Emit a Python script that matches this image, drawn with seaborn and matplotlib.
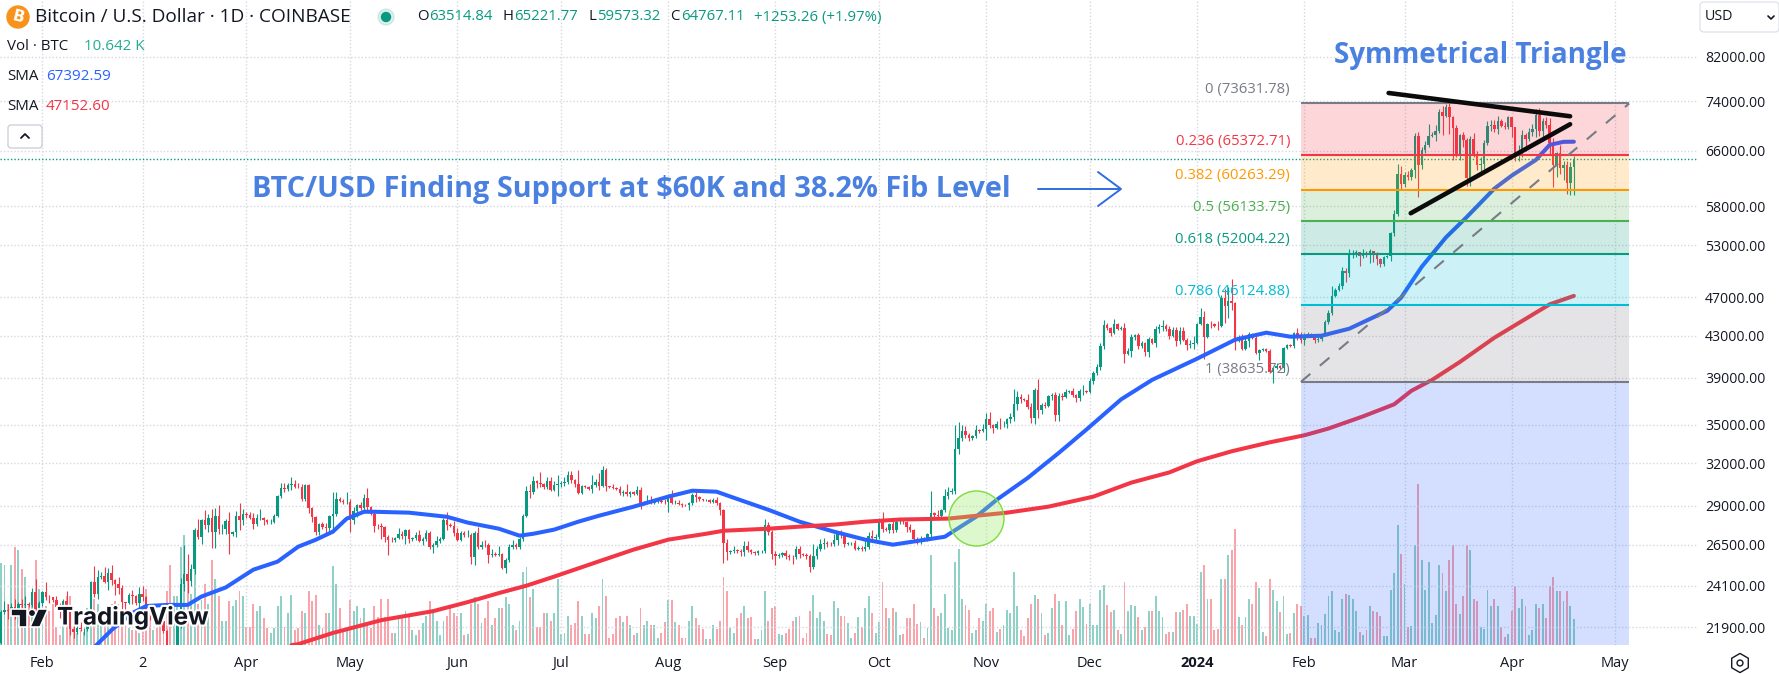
import numpy as np
import pandas as pd
import matplotlib
matplotlib.use("Agg")
import matplotlib.pyplot as plt
import matplotlib.patheffects as pe
from matplotlib.patches import Rectangle, Polygon, Circle, FancyBboxPatch
from matplotlib.ticker import NullLocator, FixedLocator
import seaborn as sns

FIRST_OPEN = 21080.0
C_2301 = [22666,22784,22707,22934,22637,23117,23032,23078,23031,23775,22840,23139]
C_2302 = [23723,23471,23449,23331,22955,22760,23264,22939,21819,21651,21870,21788,21808,22220,24307,23623,24565,24641,24327,24829,24437,24188,23947,23198,23175,23561,23522,23147]
C_2303 = [23646,23475,22362,22354,22435,22429,22219,21718,20363,20187,20632,22163,24197,24746,24375,25052,27423,26965,28038,27767,28175,27307,28333,27493,27494,27994,27139,27268,28348,28033,28478]
C_2304 = [28411,28199,27790,28169,28175,28044,27925,27947,28333,29653,30235,30139,30399,30485,30318,30315,29445,30397,28822,28245,27276,27817,27591,27525,28307,28422,29473,29340,29248,29268]
C_2305 = [28091,28680,29031,28848,29534,28904,28454,27694,27658,27621,26988,26804,26784,26930,27172,27036,27398,26832,26890,27118,26753,26851,27225,26334,26475,26720,26868,28085,27745,27700,27219]
C_2306 = [26819,27249,27075,27119,25760,27235,26346,26507,26480,25850,25940,25902,25918,25124,25575,26328,26510,26336,26851,28327,30027,29912,30688,30548,30480,30271,30689,30086,30445,30477]
C_2307 = [30590,30620,31156,30777,30514,29895,30346,30292,30171,30414,30620,30391,31476,30334,30297,30249,30145,29856,29913,29792,29908,29800,30083,29176,29228,29354,29213,29314,29352,29275,29230]
C_2308 = [29705,29186,29193,29113,29042,29041,29180,29766,29561,29429,29397,29416,29283,29408,29170,28700,26622,26049,26096,26189,26124,26040,26431,26163,26056,26003,26089,26106,27727,27297,25931]
C_2309 = [25800,25869,25969,25812,25780,25753,26240,25905,25895,25832,25162,25840,26222,26522,26600,26568,26530,26762,27211,27130,26568,26579,26579,26256,26298,26217,26352,27021,26911,26967]
C_2310 = [27983,27502,27429,27794,27412,27931,27956,27917,27590,27392,26873,26756,26862,26852,27154,28500,28396,28320,28715,29670,29908,29992,33086,33900,34500,34150,33900,34090,34530,34500,34650]
C_2311 = [35420,34940,34720,35070,35040,35050,35420,35630,36690,37310,37130,37060,36490,35550,37880,36160,36590,36580,37380,37470,35760,37420,37290,37720,37790,37450,37240,37820,37850,37720]
C_2312 = [38690,39460,39970,41980,44070,43770,43290,44180,43720,43790,41240,41490,42880,43020,41940,42260,41370,42660,42270,43660,43860,43990,43720,43010,43600,42520,43440,42580,42070,42140,42280]
C_2401 = [44180,44950,42850,44180,44160,43970,43930,46970,46110,46650,46340,42780,42850,41730,42500,43150,42740,41270,41620,41670,41550,39510,39890,40090,39940,41820,42120,42030,43300,42950,42580]
C_2402 = [43080,43190,42990,42580,42660,43090,44340,45300,47150,47770,48290,49960,49740,51830,51950,52140,51660,52130,51780,52270,51850,51300,50740,51570,51730,54490,57050,62500,61170]
C_2403 = [62430,62030,63130,68330,63800,66100,66940,68300,68500,69020,72130,71480,73080,71390,69500,65320,68390,67600,61940,67850,65500,63800,64070,67220,69960,69990,69470,70780,69890,69650,71290]
C_2404 = [69650,65460,65960,68500,67840,68900,69360,71630,69150,70640,70010,67190,63900,65660,63430,63800,61280,63514.84,64767.11]

UP_2301 = [100,500,320,240,430,100,260,430,150,190,700,130]
UP_2302 = [60,600,130,50,200,200,100,520,100,300,120,300,50,170,70,940,450,260,550,290,450,30,410,180,20,120,320,80]
UP_2303 = [370,440,40,130,140,200,330,40,50,100,300,50,320,1750,1200,300,100,700,100,700,300,600,500,700,300,100,600,100,300,820,300]
UP_2304 = [100,150,350,300,600,100,100,200,100,100,350,350,200,500,300,250,200,100,100,100,50,30,100,300,100,1500,500,100,100,700]
UP_2305 = [200,250,100,200,300,700,100,100,100,200,50,100,150,50,400,150,100,100,100,200,300,100,200,150,100,300,100,100,500,100,300]
UP_2306 = [300,100,100,300,100,100,400,200,300,100,300,100,500,100,100,200,300,100,100,100,300,500,400,100,800,100,300,300,300,700]
UP_2307 = [100,400,300,300,100,1000,100,100,100,700,200,700,350,160,50,200,50,200,200,600,100,100,250,200,100,400,300,100,100,100,200]
UP_2308 = [100,400,200,200,50,100,100,100,400,100,50,50,50,100,200,100,80,200,100,200,50,100,300,300,100,50,100,100,410,200,100]
UP_2309 = [200,100,100,200,100,100,200,200,100,100,100,720,200,300,300,100,100,400,100,200,100,100,100,200,100,100,500,300,400,200]
UP_2310 = [200,600,100,100,200,100,100,100,100,200,100,100,200,100,100,1500,100,300,100,500,400,200,1900,1300,500,400,200,100,400,100,400]
UP_2311 = [500,600,100,200,500,200,100,300,1280,500,300,100,500,300,200,1000,200,300,100,200,300,200,200,300,100,300,100,200,500,100]
UP_2312 = [300,200,300,300,500,200,100,500,100,200,500,300,300,100,200,200,100,200,100,300,300,600,200,300,300,300,400,400,200,400,700]
UP_2401 = [100,950,550,100,300,100,500,300,900,1500,2400,100,200,300,300,200,100,200,100,100,100,100,100,300,100,100,100,100,100,500,400]
UP_2402 = [200,200,100,100,300,100,300,300,1100,300,300,400,300,700,500,300,100,400,200,300,100,300,200,100,100,200,500,1500,1200]
UP_2403 = [400,500,300,500,670,400,600,1900,450,1000,600,1000,400,550,200,500,200,500,300,400,900,500,1000,500,800,800,800,700,300,600,200]
UP_2404 = [60,50,950,800,200,700,900,1070,1150,560,660,1200,800,140,1240,600,700,730,454.66]

DN_2301 = [30,100,400,200,350,550,300,350,100,100,200,350]
DN_2302 = [130,150,300,120,100,400,300,300,300,300,100,100,300,100,170,120,270,100,70,470,290,590,330,340,430,100,420,100]
DN_2303 = [500,200,150,100,100,300,100,100,200,650,400,100,300,400,700,300,300,100,400,300,500,1000,1000,300,300,300,1200,100,300,600,300]
DN_2304 = [200,100,300,100,100,300,100,100,100,100,100,200,100,300,100,100,100,100,300,300,150,200,100,300,300,1000,100,100,100,100]
DN_2305 = [800,300,400,100,300,300,100,400,200,800,300,900,100,100,100,200,500,200,100,100,100,300,100,100,350,100,100,100,300,100,200]
DN_2306 = [100,100,100,100,400,500,100,100,100,450,100,100,100,100,320,100,100,100,100,100,100,400,100,300,200,100,100,100,100,800]
DN_2307 = [200,200,100,200,200,100,100,100,100,300,100,300,100,300,50,100,100,100,200,100,200,100,100,400,100,100,100,100,100,100,100]
DN_2308 = [630,100,100,50,100,50,300,100,300,100,100,50,100,100,100,300,1200,500,100,100,100,200,200,100,100,100,100,100,100,200,300]
DN_2309 = [500,100,100,200,200,400,100,200,100,200,260,100,200,100,300,200,100,100,300,200,200,100,100,100,100,100,100,100,100,100]
DN_2310 = [100,200,100,200,200,100,100,100,300,100,200,200,200,100,100,200,300,100,100,100,200,100,200,400,200,200,200,100,200,200,100]
DN_2311 = [900,200,400,100,400,200,300,300,300,500,300,100,200,400,500,600,300,200,100,300,500,500,200,100,100,100,400,300,300,100]
DN_2312 = [100,200,200,300,300,200,300,100,100,100,900,100,600,300,200,100,300,400,100,400,400,400,300,300,100,500,300,100,500,300,400]
DN_2401 = [100,100,2100,100,400,100,400,100,1800,1300,740,1200,400,100,100,600,100,100,600,100,100,100,950,100,100,400,100,100,200,400,330]
DN_2402 = [500,200,100,300,200,200,100,200,200,100,100,400,1100,500,400,300,1100,200,200,900,800,600,300,200,100,600,300,300,870]
DN_2403 = [500,300,300,1200,4500,500,400,400,100,1000,300,3100,200,2800,4900,300,800,1000,1140,1140,400,700,1000,800,400,800,600,900,100,200,300]
DN_2404 = [1550,960,960,860,1840,390,560,1250,900,1650,400,1900,3200,1800,930,1730,1630,1680,3941.52]

# Volume in thousand BTC
VOL_A = [33.5,33,17,33,40,39,31,28,17,19,35,23,22,16,14,17,7.5,4,16,20,
         20,7.5,5,6,5.5,15,15,19,17,12,10,12,17,18,17,12,9,7,6,6,
         5,7,23,17,6,7,12,7,22,33,20,20,40,45,29,21,31,17,18.5,25,
         17,35,27,20,10,10,18,16,18.5,22,20,7.5,7.5,17,14,16,11,7,5,7,
         16,20,7.5,13,20.5,6,7]
VOL_B = [14,13,22,18,20.5,8,7,13,13,32.5,25,15,6,6,18.5,14,16,11,15,8,
         7,16,11.5,19,11.5,19,5,5,12,11.5,14,11.5,6,4,6,9,12,18,13,10,
         4,10,12,15,13,12,13,4,4.5,17,19.5,17,9,11,18,8,11,15,15,19.5,
         17,8,6,10,30,32,19.5,23,7.5,7.5,13,13,10,13,27,4.5,5,12,8,9,
         18,12,4.5,4.5,13,11,16]
VOL_C = [27,20,3,4.5,11,12,9.5,12,8,4,5,15,8,10,8,8,3,5,9.5,18.5,
         18.5,9.5,8,3,3,10,16,11,8,6.5,2.5,2.5,8,6.5,10,28,22,7,5,11,
         13,16,11,11.5,2.5,2.5,6,22,10,15,16,4.5,4,5,6.5,10,11.5,12,3,5,
         14,20.5,11,13.5,10,4.5,4,18,15,12,12,9,3,5,11.5,7.5,15,20,13,5,
         9.5,26,15,11,15,13.5,4]
VOL_D = [4.5,11,11,17,8.5,9.5,3,7,37,15,12,13,21,7,6,34,39.5,19,16.5,14.5,
         5,6,11,10,17,14,15,5.5,6.5,8,14.5,13,30,16,6,3.5,11,17,20.5,19,
         13,4,5,15,21,18,8,18,4,6.5,14,19,15.5,8.5,17,8,8,22.5,24.5,16.5,
         13.5,14.5,6,4.5,26,14,16.5,16,11.5,6,7.5,14,14,20,14,11.5,4.5,5.5,5.5,13.5,
         13.5,14.5,17,12,12,8.5,30,33,19,19,6,6.5,27,27,37,39,47.5,11.5,8,11.5,
         19,17,26,23.5,5.5,3.5,27,22.5,18,13.5,20,4.5,5,13,17,16]
VOL_E = [12,12.5,2.7,3,9,8.4,12.7,20,22.3,6,5.5,19,21,20.7,19,14,5.5,4.2,6.3,16,
         14,13.4,12,3.8,3.8,22.7,29.5,49,37.4,
         25,7.3,7.7,41,66,35,22.7,34,9,12.5,33,29.7,22,34.7,41,17,12.7,20,41,39,
         19,18,7.5,6.7,22.7,16,19,15.8,7.5,3.4,4.5,
         14,24,15,19,15.8,4.2,6,17,15.3,17,11,24,28,22,22,18,22.3,15.8,10.642]

# Moving averages read at selected sessions (dates given as day offsets from the first bar)
SMA50_DAY = [27,32,38,42,48,54,58,65,73,80,86,91,96,100,105,108,118,129,135,144,150,154,160,167,173,183,193,200,207,212,222,231,241,250,258,273,282,288,297,306,314,324,333,346,357,366,373,382,390,401,405,411,418,424,432,437,444,448,452,455]
SMA50_VAL = [20900,21750,22620,22990,23050,23050,23500,24000,25010,25480,26380,26800,27310,28150,28600,28600,28540,28270,27890,27500,27060,27180,27440,27950,28340,28940,29620,30030,29960,29540,28730,27950,27310,26810,26500,26990,28260,29400,30930,32780,34600,37100,38820,40770,42600,43300,42900,43000,43700,45550,46960,50450,54000,56600,60460,62300,64600,66900,67370,67392.59]
SMA200_DAY = [84,86,96,110,125,135,144,152,160,173,183,193,204,209,222,231,241,250,260,274,291,303,316,327,338,346,356,367,377,384,394,403,408,414,422,432,448,455]
SMA200_VAL = [21000,21050,21600,22250,22720,23200,23690,24100,24610,25500,26200,26810,27180,27370,27500,27630,27760,27950,28090,28150,28540,28940,29620,30600,31330,32150,32900,33590,34140,34680,35670,36680,37850,38820,40460,42800,46240,47152.6]

FIB_RATIO = ["0","0.236","0.382","0.5","0.618","0.786","1"]
FIB_PRICE = [73631.78,65372.71,60263.29,56133.75,52004.22,46124.88,38635.72]
FIB_COLOR = ["#787b86","#f23645","#ff9800","#4caf50","#089981","#00bcd4","#787b86"]
FIB_FILL = ["#f23645","#ff9800","#4caf50","#089981","#00bcd4","#787b86"]
FIB_START, FIB_END = "2024-01-31", "2024-05-05"

Y_TICKS = [82000,74000,66000,58000,53000,47000,43000,39000,35000,32000,29000,26500,24100,21900]
X_TICK_DATES = ["2023-02-01","2023-03-02","2023-04-01","2023-05-01","2023-06-01","2023-07-01","2023-08-01","2023-09-01","2023-10-01","2023-11-01","2023-12-01","2024-01-01","2024-02-01","2024-03-01","2024-04-01","2024-05-01"]
X_TICK_LABELS = ["Feb","2","Apr","May","Jun","Jul","Aug","Sep","Oct","Nov","Dec","2024","Feb","Mar","Apr","May"]

TREND_UPPER_DAY, TREND_UPPER_VAL = [401.4,453.9], [75440,71480]
TREND_LOWER_DAY, TREND_LOWER_VAL = [407.8,453.9], [57100,70170]
CIRCLE_DAY, CIRCLE_VAL = 282, 28190

closes = np.array(sum([C_2301,C_2302,C_2303,C_2304,C_2305,C_2306,C_2307,C_2308,C_2309,C_2310,C_2311,C_2312,C_2401,C_2402,C_2403,C_2404],[]),float)
wick_up = np.array(sum([UP_2301,UP_2302,UP_2303,UP_2304,UP_2305,UP_2306,UP_2307,UP_2308,UP_2309,UP_2310,UP_2311,UP_2312,UP_2401,UP_2402,UP_2403,UP_2404],[]),float)
wick_dn = np.array(sum([DN_2301,DN_2302,DN_2303,DN_2304,DN_2305,DN_2306,DN_2307,DN_2308,DN_2309,DN_2310,DN_2311,DN_2312,DN_2401,DN_2402,DN_2403,DN_2404],[]),float)
volume = np.array(VOL_A+VOL_B+VOL_C+VOL_D+VOL_E,float)
assert len(closes)==len(wick_up)==len(wick_dn)==len(volume)==456,(len(closes),len(wick_up),len(wick_dn),len(volume))

opens = np.r_[FIRST_OPEN, closes[:-1]]
highs = np.maximum(opens,closes)+wick_up
lows = np.minimum(opens,closes)-wick_dn
highs[-1], lows[-1] = 65221.77, 59573.32
days = np.arange(len(closes))
START = pd.Timestamp("2023-01-20")
day_of = lambda s: (pd.Timestamp(s)-START).days

sns.set_theme(style="white")
plt.rcParams["font.family"] = ["Open Sans","DejaVu Sans"]
UPC, DNC = "#089981", "#f23645"
TXT = "#131722"
ACCENT = "#4a80e0"
W, H = 1779, 674
fig = plt.figure(figsize=(W/100,H/100),dpi=100,facecolor="white")
AX_R, AX_B = 1698, 645
ax = fig.add_axes([0,1-AX_B/H,AX_R/W,AX_B/H])
vax = ax.twinx()
ax.set_zorder(2); vax.set_zorder(1); ax.patch.set_visible(False)
vax.patch.set_facecolor("white")

# volume
is_up = closes>=opens
vax.bar(days[is_up],volume[is_up],width=0.55,color=UPC,alpha=0.45,linewidth=0)
vax.bar(days[~is_up],volume[~is_up],width=0.55,color=DNC,alpha=0.45,linewidth=0)
vax.set_ylim(0,AX_B*0.41)
vax.axis("off")

# candles
ax.vlines(days[is_up],lows[is_up],highs[is_up],color=UPC,lw=0.8,zorder=3)
ax.vlines(days[~is_up],lows[~is_up],highs[~is_up],color=DNC,lw=0.8,zorder=3)
bt = np.minimum(opens,closes); tp = np.maximum(opens,closes)
ax.bar(days[is_up],(tp-bt)[is_up],bottom=bt[is_up],width=0.72,color=UPC,linewidth=0,zorder=3)
ax.bar(days[~is_up],(tp-bt)[~is_up],bottom=bt[~is_up],width=0.72,color=DNC,linewidth=0,zorder=3)

# moving averages
sns.lineplot(x=SMA50_DAY,y=SMA50_VAL,ax=ax,color="#2962ff",lw=2.9,zorder=4,errorbar=None,estimator=None)
sns.lineplot(x=SMA200_DAY,y=SMA200_VAL,ax=ax,color="#f23645",lw=2.9,zorder=4,errorbar=None,estimator=None)

ax.set_yscale("log")
ax.set_ylim(21006,93570)
ax.set_xlim(-0.29,490.9)

# Fibonacci
fs,fe = day_of(FIB_START),day_of(FIB_END)
for i,c in enumerate(FIB_FILL):
    ax.fill_between([fs,fe],FIB_PRICE[i+1],FIB_PRICE[i],color=c,alpha=0.2,lw=0,zorder=5)
ax.fill_between([fs,fe],21006,FIB_PRICE[-1],color="#2962ff",alpha=0.2,lw=0,zorder=5)
for p,c in zip(FIB_PRICE,FIB_COLOR):
    ax.hlines(p,fs,fe,color=c,lw=1.5,zorder=5)
ax.plot([fs,fe],[FIB_PRICE[-1],FIB_PRICE[0]],color="#787b86",lw=1.5,ls=(0,(6,6)),zorder=5)
FIB_LABEL_Y = [90,141,176,207,240,292,369]

# trend lines, circle, current price
ax.plot(TREND_UPPER_DAY,TREND_UPPER_VAL,color="#0b0b0b",lw=3.3,solid_capstyle="round",zorder=6)
ax.plot(TREND_LOWER_DAY,TREND_LOWER_VAL,color="#0b0b0b",lw=3.3,solid_capstyle="round",zorder=6)
ax.scatter([CIRCLE_DAY],[CIRCLE_VAL],s=1568,facecolor=(0.6,0.92,0.4,0.32),edgecolor="#7ddc3c",linewidth=1,zorder=6)
ax.axhline(closes[-1],xmin=0,xmax=1,color=UPC,lw=1,ls=(0,(1,1.5)),zorder=2)

# axes
ax.yaxis.tick_right()
ax.yaxis.set_major_locator(FixedLocator(Y_TICKS))
ax.yaxis.set_minor_locator(NullLocator())
ax.set_yticklabels([f"{v:.2f}" for v in Y_TICKS])
ax.set_xticks([day_of(d) for d in X_TICK_DATES])
ax.set_xticklabels(X_TICK_LABELS)
ax.tick_params(axis="y",length=0,pad=5,labelsize=10.1,colors=TXT,which="both")
ax.tick_params(axis="x",length=0,pad=8,labelsize=10.5,colors=TXT)
ax.get_xticklabels()[11].set_fontweight("bold")
ax.grid(True,color="#d6d8e2",lw=1,ls=(0,(1,1.5)),zorder=0)
ax.set_axisbelow(True)
for s in ax.spines.values(): s.set_visible(False)
for s in vax.spines.values(): s.set_visible(False)

# overlay in figure pixels for chart furniture
ov = fig.add_axes([0,0,1,1],zorder=10)
ov.set_xlim(0,W); ov.set_ylim(H,0); ov.axis("off"); ov.patch.set_visible(False)
T = lambda x,y,s,c=TXT,fs=10.9,**k: ov.text(x,y,s,color=c,fontsize=fs,va="center",**k)

# header
ov.add_patch(Circle((18,17),11,color="#f7931a",zorder=2))
ov.text(18,17,"B",color="white",fontsize=11,ha="center",va="center",family="DejaVu Sans",fontweight="bold",rotation=-14,zorder=3)
T(35,17,"Bitcoin / U.S. Dollar · 1D · COINBASE",fs=13.7)
ov.add_patch(Circle((386,17),8,color="#089981",alpha=0.14))
ov.add_patch(Circle((386,17),4.5,color="#089981"))
for lx,l,vx,v in [(417,"O",429,"63514.84"),(502,"H",514,"65221.77"),(588,"L",597,"59573.32"),(670,"C",681,"64767.11")]:
    T(lx,17,l,fs=10.7); T(vx,17,v,UPC,fs=10.7)
T(754,17,"+1253.26 (+1.97%)",UPC,fs=10.8)
T(7,47,"Vol · BTC"); T(84,47,"10.642 K","#22ab94")
T(7,77,"SMA"); T(46,77,"67392.59","#2962ff")
T(7,107,"SMA"); T(46,107,"47152.60","#f23645")
ov.add_patch(FancyBboxPatch((8,125),34,23,boxstyle="round,pad=0,rounding_size=3",fc="white",ec="#c9ccd6",lw=0.9))
ov.plot([21,25,29],[138,134,138],color=TXT,lw=1.3)
ov.add_patch(FancyBboxPatch((1700,2),79,30,boxstyle="round,pad=0,rounding_size=4",fc="white",ec="#dfe1ea",lw=0.9))
T(1705,17,"USD",fs=10.3)
ov.plot([1768,1771,1774],[16,19,16],color=TXT,lw=1.2)

# Fibonacci labels
for r,p,c,y in zip(FIB_RATIO,FIB_PRICE,FIB_COLOR,FIB_LABEL_Y):
    T(1290,y,f"{r} ({p:.2f})",c,fs=10.7,ha="right")

# annotations
T(1334,55,"Symmetrical Triangle",ACCENT,fs=20,fontweight="bold")
T(252,190,"BTC/USD Finding Support at $60K and 38.2% Fib Level",ACCENT,fs=20.8,fontweight="bold")
ov.plot([1038,1120],[189,189],color="#2f6de0",lw=1.4)
ov.plot([1098,1121,1098],[172,189,206],color="#2f6de0",lw=1.4)

# logo
halo=[pe.withStroke(linewidth=3,foreground="white")]
T(57,618,"TradingView","#131722",fs=17.4,fontweight="bold",family="Inter",path_effects=halo)
for art in [Polygon([(11,609),(27,609),(27,627),(19,627),(19,616),(11,616)],closed=True,fc="#131722",ec="white",lw=1.2),
            Circle((32,613),3.6,fc="#131722",ec="white",lw=1),
            Polygon([(38,609),(48,609),(40,627),(30,627)],closed=True,fc="#131722",ec="white",lw=1.2)]:
    ov.add_patch(art)

# settings hexagon
ov.scatter([1740],[663],marker="h",s=190,facecolor="none",edgecolor=TXT,linewidth=1)
ov.scatter([1740],[663],marker="o",s=18,facecolor="none",edgecolor=TXT,linewidth=1)

fig.savefig("out.png",dpi=100,facecolor="white")
